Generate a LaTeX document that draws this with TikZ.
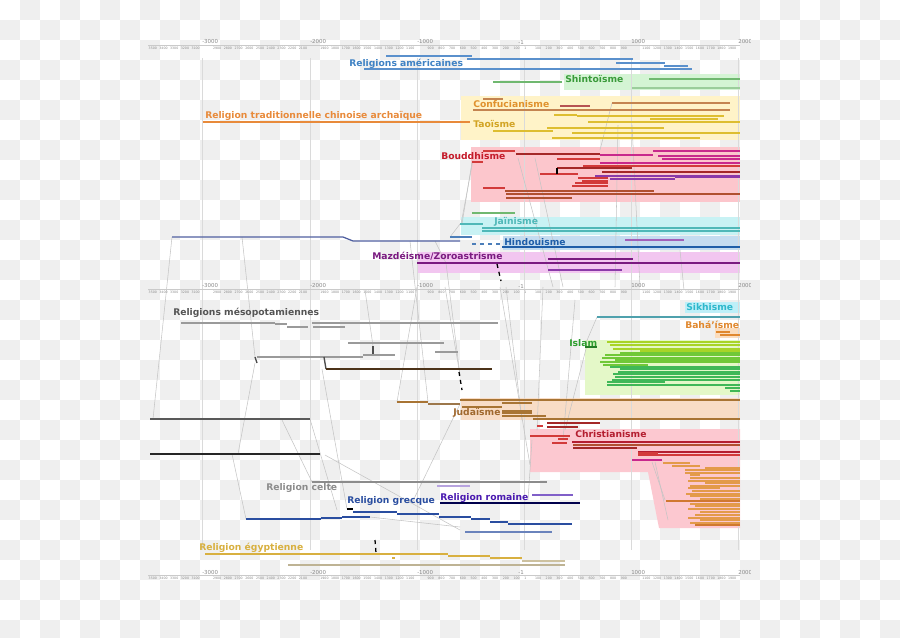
\documentclass[tikz,border=0pt]{standalone}
\usepackage{fontspec}
\setmainfont{DejaVu Sans}
\definecolor{chk}{HTML}{EFEFEF}
\definecolor{axc}{HTML}{8A8A8A}
\definecolor{conc}{HTML}{C4C4C4}
\definecolor{grc}{HTML}{DADADA}
\definecolor{camer}{HTML}{3F82C4}
\definecolor{lamer}{HTML}{5A90CC}
\definecolor{cshin}{HTML}{3A9A3A}
\definecolor{lshin}{HTML}{70B870}
\definecolor{bshin}{HTML}{D4F4D4}
\definecolor{cconf}{HTML}{E0922E}
\definecolor{lconf}{HTML}{C48450}
\definecolor{cchin}{HTML}{E88A3A}
\definecolor{ctao}{HTML}{D2A424}
\definecolor{ltao}{HTML}{DEBE30}
\definecolor{bcon}{HTML}{FFF3C8}
\definecolor{cbud}{HTML}{C41A2A}
\definecolor{bbud}{HTML}{FCC6CC}
\definecolor{br1}{HTML}{D23A3A}
\definecolor{br2}{HTML}{A42828}
\definecolor{bmg}{HTML}{C8288C}
\definecolor{bpu}{HTML}{8A3AA8}
\definecolor{bbr}{HTML}{B05030}
\definecolor{cjai}{HTML}{4FB8B8}
\definecolor{bjai}{HTML}{C8F2F4}
\definecolor{chin}{HTML}{1F5EA8}
\definecolor{bhin}{HTML}{C4DCF0}
\definecolor{lhin}{HTML}{5060A0}
\definecolor{cmaz}{HTML}{7A1A80}
\definecolor{bmaz}{HTML}{F2C6F0}
\definecolor{cmes}{HTML}{555555}
\definecolor{lmes}{HTML}{9A9A9A}
\definecolor{csik}{HTML}{2EB8CC}
\definecolor{bsik}{HTML}{BEEFF8}
\definecolor{cbah}{HTML}{E0882E}
\definecolor{bbah}{HTML}{FBDDBE}
\definecolor{cisl}{HTML}{2E9E2E}
\definecolor{bisl}{HTML}{E4F8C8}
\definecolor{ig1}{HTML}{A8D428}
\definecolor{ig2}{HTML}{70C838}
\definecolor{ig3}{HTML}{40B858}
\definecolor{cjud}{HTML}{A0682E}
\definecolor{ljud}{HTML}{A87434}
\definecolor{bjud}{HTML}{F8DCC6}
\definecolor{cchr}{HTML}{B41E30}
\definecolor{bchr}{HTML}{FCC8D0}
\definecolor{prot}{HTML}{E39A4A}
\definecolor{prot2}{HTML}{D07830}
\definecolor{ccel}{HTML}{8C8C8C}
\definecolor{cgre}{HTML}{2A4EA0}
\definecolor{crom}{HTML}{4A1AB0}
\definecolor{cegy}{HTML}{D8B040}
\newcommand{\TLine}[4][black]{\draw[tl,#1] (#3,#2) -- (#4,#2);}
\begin{document}
\begin{tikzpicture}[x=0.75pt,y=-0.75pt,
  lab/.style={font=\bfseries\fontsize{6.9}{8}\selectfont, anchor=base west, inner sep=0pt},
  majl/.style={font=\fontsize{4.1}{5}\selectfont, text=axc, anchor=west, inner sep=0pt},
  minl/.style={font=\fontsize{2.4}{3}\selectfont, text=axc, anchor=west, inner sep=0pt},
  conn/.style={draw=conc, line width=0.4pt},
  gridl/.style={draw=grc, line width=0.45pt},
  tl/.style={line width=0.95pt}]
\useasboundingbox (0,0) rectangle (900,637);
% checkerboard (transparent background)
\foreach \i in {0,...,44}{\foreach \j in {0,...,31}{
  \pgfmathtruncatemacro\od{mod(\i+\j,2)}
  \ifnum\od=1 \fill[chk] (\i*20,\j*20) rectangle ++(20,20); \fi}}
% bands
\fill[bshin] (564,74) rectangle (740,90);
\fill[bcon] (461,96) rectangle (740,140);
\fill[bbud] (471,147) rectangle (740,202);
\fill[bjai] (461,217) rectangle (740,235);
\fill[bhin] (503,236) rectangle (740,250);
\fill[bmaz] (418,252) rectangle (740,273);
\fill[bsik] (685,302) rectangle (740,313);
\fill[bbah] (715,328) rectangle (740,338);
\fill[bisl] (585,340) rectangle (740,395);
\fill[bjud] (461,398) rectangle (740,420);
\fill[bchr] (530,429) -- (740,429) -- (740,528) -- (659,528) -- (648,472) -- (530,472) -- cycle;
% grid lines
\foreach \gx in {202,310,417,524,631,738}{\draw[gridl] (\gx,58) -- (\gx,550);}
% connectors
\foreach \ax/\ay/\bx/\by in {172/237/153/419, 242/237/255/357, 410/241/428/402, 435/241/446/263,
  446/263/460/375, 255/363/238/454, 232/454/246/519, 282/420/312/482, 325/455/460/530,
  310/419/337/510, 322/369/347/509, 518/158/553/287, 535/158/563/287, 612/103/600/150,
  618/125/615/287, 632/125/640/287, 680/250/684/290, 445/287/460/375, 500/287/530/465,
  506/287/522/420, 543/287/537/430, 587/345/565/430, 597/317/585/345, 528/500/532/440,
  462/224/472/162, 460/224/450/237, 365/290/373/346, 417/287/397/402, 652/462/665/500,
  655/462/668/520, 460/404/412/503, 370/517/460/527, 575/300/563/440, 473/160/461/224}
  {\draw[conn] (\ax,\ay) -- (\bx,\by);}
% axes
\begin{scope}
\clip (140,30) rectangle (750,600);
\foreach \ay in {42,286,572}{
  \draw[axc!45, line width=0.3pt] (148,\ay+3) -- (740,\ay+3);
  \node[majl] (a\ay m3) at (202,\ay) {-3000};
  \node[majl] (a\ay m2) at (310,\ay) {-2000};
  \node[majl] (a\ay m1) at (417,\ay) {-1000};
  \node[majl, anchor=east] (a\ay z) at (524,\ay) {-1};
  \node[majl] (a\ay p1) at (631,\ay) {1000};
  \node[majl] (a\ay p2) at (738,\ay) {2000};
  \node[minl] (a\ay one) at (524,\ay+6.5) {1};
  \foreach \yr in {-3500,-3400,...,1900}{
    \pgfmathtruncatemacro\ab{abs(\yr)}
    \pgfmathtruncatemacro\md{mod(\ab,1000)}
    \ifnum\md=0 \else
      \node[minl] (a\ay y\ab\yr) at ({524+0.1073*\yr},\ay+6.5) {\ab};
    \fi}
}
\end{scope}
% Americas
\TLine[lamer]{56}{386}{472}
\TLine[lamer]{59}{467}{633}
\TLine[lamer]{63}{616}{665}
\TLine[lamer]{66}{664}{688}
\TLine[lamer]{69}{364}{692}
% Shinto
\TLine[lshin]{82}{493}{562}
\TLine[lshin]{79}{649}{740}
\TLine[lshin!70]{88}{632}{740}
% Chinese
\TLine[cchin]{122}{203}{470}
\TLine[lconf]{99}{483}{503}
\TLine[lconf]{103}{612}{730}
\TLine[br2!80]{106}{560}{590}
\TLine[lconf]{110}{473}{730}
\TLine[ltao]{115}{554}{577}
\TLine[ltao]{116}{577}{724}
\TLine[ltao]{119}{650}{718}
\TLine[ltao]{122}{588}{740}
\TLine[ltao]{128}{547}{664}
\TLine[ltao]{131}{493}{553}
\TLine[ltao]{133}{572}{740}
\TLine[ltao]{138}{552}{700}
% Buddhism
\TLine[br1]{151}{483}{515}
\TLine[bmg]{151}{653}{740}
\TLine[br2]{154}{516}{600}
\TLine[bmg]{155}{600}{653}
\TLine[bmg]{156}{658}{740}
\TLine[bmg]{159}{662}{740}
\TLine[br1]{159}{557}{600}
\TLine[br1]{162}{472}{483}
\TLine[bmg]{163}{600}{740}
\TLine[br1]{166}{583}{740}
\TLine[br2]{168}{557}{632}
\TLine[br2]{172}{602}{740}
\TLine[br1]{174}{540}{578}
\TLine[bpu]{176}{595}{740}
\TLine[br1]{178}{578}{608}
\TLine[bpu]{179}{610}{675}
\TLine[bpu]{177}{675}{740}
\TLine[br1]{181}{582}{608}
\TLine[br1]{183}{575}{608}
\TLine[br1]{186}{572}{608}
\TLine[br1]{188}{483}{505}
\TLine[bbr]{191}{505}{654}
\TLine[bbr]{194}{506}{740}
\TLine[bbr]{198}{506}{572}
\draw[tl,black] (557,168) -- (557,174);
% Jainism / Hinduism
\TLine[lshin]{213}{472}{515}
\TLine[cjai]{224}{460}{483}
\TLine[cjai]{228}{482}{740}
\TLine[cjai]{231}{482}{740}
\draw[tl,lhin] (172,237) -- (343,237) -- (353,241) -- (460,241);
\TLine[chin!80]{237}{450}{472}
\draw[tl,chin!80,dashed] (472,244) -- (502,244);
\draw[line width=1.2pt,chin] (502,247) -- (740,247);
\TLine[bpu!80]{240}{625}{684}
% Mazdeism
\TLine[cmaz]{263}{417}{740}
\TLine[cmaz]{259}{548}{633}
\TLine[bpu]{270}{548}{622}
\draw[tl,black,dashed] (497,264) -- (501,281);
% Sikh, Bahai
\TLine[csik!60!gray]{317}{597}{740}
\TLine[cbah]{332}{716}{730}
\TLine[cbah]{335}{720}{740}
% Islam
\TLine[cisl!80!black]{347}{585}{597}
\foreach \yy/\xa/\xb/\cc in {342/607/740/ig1, 345/610/740/ig1, 349/613/740/ig1, 351/640/740/ig1,
  353/620/740/ig2, 355/605/740/ig2, 358/602/740/ig2, 360/615/740/ig2, 362/600/740/ig2,
  365/603/648/ig2, 367/610/740/ig3, 369/620/740/ig3, 372/618/740/ig3, 374/613/740/ig3,
  377/615/740/ig3, 380/612/740/ig3, 382/607/665/ig3, 385/607/740/ig3, 388/725/740/ig3, 391/730/740/ig3}
  {\TLine[\cc]{\yy}{\xa}{\xb}}
% Mesopotamia
\TLine[lmes]{323}{181}{275}
\TLine[lmes]{324}{275}{287}
\TLine[lmes]{327}{287}{308}
\TLine[lmes]{323}{312}{498}
\TLine[lmes]{327}{313}{345}
\TLine[lmes]{343}{348}{444}
\TLine[lmes]{352}{435}{458}
\TLine[lmes]{355}{363}{395}
\TLine[lmes]{357}{257}{363}
\draw[line width=1pt,black!70] (373,346) -- (373,354);
\draw[line width=1pt,black!70] (255,357) -- (257,363);
\draw[line width=1pt,black!70] (324,357) -- (326,369);
\draw[line width=1.1pt,black!60!brown] (326,369) -- (492,369);
\draw[line width=1.7pt,black!65] (150,419) -- (310,419);
\draw[line width=1.7pt,black!85] (150,454) -- (320,454);
% Judaism
\TLine[ljud]{402}{397}{428}
\TLine[ljud!70!gray]{404}{428}{460}
\TLine[ljud]{400}{460}{740}
\TLine[ljud]{403}{502}{532}
\TLine[ljud]{407}{462}{502}
\TLine[ljud]{411}{502}{532}
\TLine[ljud]{413}{502}{532}
\TLine[ljud]{416}{502}{546}
\TLine[ljud]{419}{533}{740}
\TLine[br2]{423}{547}{600}
\TLine[br2]{427}{547}{578}
\TLine[br1]{426}{537}{543}
\draw[tl,black,dashed] (459,372) -- (462,390);
% Christianity
\TLine[br1]{436}{530}{570}
\TLine[br1]{439}{558}{568}
\TLine[br1]{443}{552}{567}
\TLine[cchr]{442}{572}{740}
\TLine[bbr]{445}{573}{740}
\TLine[br2]{448}{573}{637}
\TLine[cchr]{452}{638}{740}
\TLine[br1]{455}{638}{740}
\TLine[br1]{453}{638}{658}
\TLine[bmg]{460}{632}{662}
\foreach \yy/\xa/\xb in {463/663/690, 466/672/700, 468/705/740, 470/685/740, 473/685/740,
  475/690/700, 478/690/740, 481/688/740, 483/705/740, 486/690/740, 488/688/720, 491/692/740,
  494/686/740, 496/690/740, 499/700/740, 504/690/740, 506/695/740, 509/688/740,
  512/700/740, 515/695/740, 518/688/740, 520/700/740, 523/690/740}
  {\TLine[prot]{\yy}{\xa}{\xb}}
\TLine[prot2]{501}{666}{740}
\TLine[prot2]{525}{695}{740}
% Celtic, Roman, Greek
\TLine[ccel]{482}{312}{547}
\TLine[crom!40]{486}{437}{470}
\TLine[crom!70]{495}{532}{573}
\draw[line width=1.1pt,black!70!blue] (440,503) -- (580,503);
\foreach \yy/\xa/\xb in {519/246/321, 518/321/342, 517/342/370, 512/353/397, 514/397/439,
  517/439/471, 519/471/490, 522/490/508, 524/508/572}
  {\TLine[cgre]{\yy}{\xa}{\xb}}
\TLine[cgre!70]{532}{465}{552}
\draw[line width=1pt,black] (347,509) -- (353,509);
% Egypt
\TLine[cegy]{554}{205}{448}
\TLine[cegy]{556}{448}{490}
\TLine[cegy]{558}{490}{522}
\TLine[cegy!50!gray!60]{561}{522}{565}
\TLine[cegy!40!gray!70]{565}{288}{565}
\TLine[cegy]{558}{392}{395}
\draw[tl,black,dashed] (375,540) -- (376,553);
% labels
\node[lab,text=camer] (amer) at (349,66) {Religions américaines};
\node[lab,text=cshin] (shin) at (565,82) {Shintoïsme};
\node[lab,text=cconf] (conf) at (473,107) {Confucianisme};
\node[lab,text=cchin] (chin) at (205,118.5) {Religion traditionnelle chinoise archaïque};
\node[lab,text=ctao] (tao) at (473,127) {Taoïsme};
\node[lab,text=cbud] (bud) at (441,159) {Bouddhisme};
\node[lab,text=cjai] (jai) at (494,224) {Jaïnisme};
\node[lab,text=chin] (hin) at (504,245) {Hindouisme};
\node[lab,text=cmaz] (maz) at (372,259) {Mazdéisme/Zoroastrisme};
\node[lab,text=cmes] (mes) at (173,315) {Religions mésopotamiennes};
\node[lab,text=csik] (sik) at (686,310) {Sikhisme};
\node[lab,text=cbah] (bah) at (685,328) {Bahá'ísme};
\node[lab,text=cisl] (isl) at (569,346) {Islam};
\node[lab,text=cjud] (jud) at (453,415) {Judaïsme};
\node[lab,text=cchr] (chr) at (575,437) {Christianisme};
\node[lab,text=ccel] (cel) at (266,490) {Religion celte};
\node[lab,text=cgre] (gre) at (347,503) {Religion grecque};
\node[lab,text=crom] (rom) at (440,500) {Religion romaine};
\node[lab,text=cegy] (egy) at (199,550) {Religion égyptienne};
\end{tikzpicture}
\end{document}
